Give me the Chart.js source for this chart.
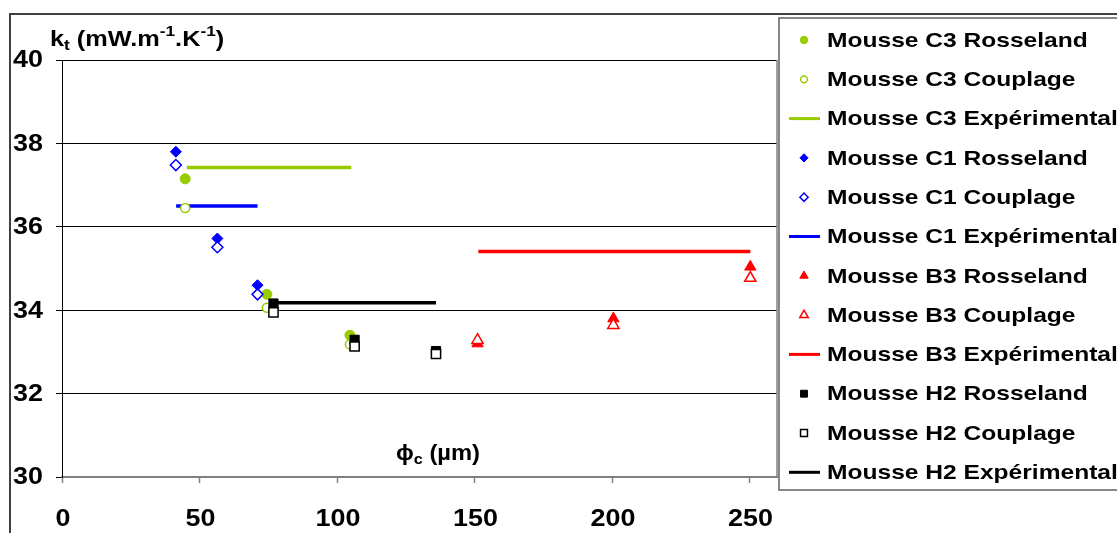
<!DOCTYPE html>
<html>
<head>
<meta charset="utf-8">
<script src="https://cdn.jsdelivr.net/npm/chart.js@4/dist/chart.umd.min.js"></script>
<style>
  html, body { margin: 0; padding: 0; background: #fff; }
  #wrap { position: relative; width: 1117px; height: 533px; }
</style>
</head>
<body>
<div id="wrap"><canvas id="chart" width="1117" height="533"></canvas></div>
<script>
// diamètre de cellule (µm) pour chaque mousse
const c3Diam = [44.8, 74.5, 104.7];
const c1Diam = [41.4, 56.5, 71.1];
const b3RossDiam = [151.1, 200.5, 250.3];
const b3CoupDiam = [151.1, 200.5, 250.3];
const h2Diam = [76.9, 106.4, 136.0];

const c3Rosseland = [37.15, 34.38, 33.40];
const c3Couplage = [36.45, 34.06, 33.18];
const c1Rosseland = [37.80, 35.72, 34.60];
const c1Couplage = [37.48, 35.51, 34.38];
const b3Rosseland = [33.20, 33.80, 35.04];
const b3Couplage = [33.28, 33.64, 34.77];
const h2Rosseland = [34.16, 33.29, 33.02];
const h2Couplage = [33.95, 33.13, 32.95];

// valeurs expérimentales : plage de diamètres et conductivité
const c3ExpRange = [45.4, 105.2];
const c3Exp = 37.42;
const c1ExpRange = [41.5, 71.1];
const c1Exp = 36.50;
const b3ExpRange = [151.4, 250.3];
const b3Exp = 35.41;
const h2ExpRange = [77.0, 136.0];
const h2Exp = 34.18;

const xTicks = [0, 50, 100, 150, 200, 250];
const yTicks = [30, 32, 34, 36, 38, 40];

const GREEN = "#99cc00";
const BLUE = "#0000ff";
const RED = "#ff0000";
const BLACK = "#000000";
const FONT = "'Liberation Sans', Arial, sans-serif";
const STRETCH = 1.17; // le texte de la référence est étiré en largeur

const pts = (xs, ys) => xs.map((x, i) => ({ x: x, y: ys[i] }));
const seg = (range, v) => range.map((x) => ({ x: x, y: v }));

function markers(label, data, color, style, filled, radius, idx) {
  return {
    type: "scatter",
    label: label,
    data: data,
    showLine: false,
    pointStyle: style,
    pointRadius: radius,
    pointHoverRadius: radius,
    pointBackgroundColor: filled ? color : "#ffffff",
    pointBorderColor: color,
    pointBorderWidth: filled ? 1 : 1.5,
    order: 50 - idx,
  };
}

function expLine(label, data, color) {
  return {
    type: "line",
    label: label,
    data: data,
    borderColor: color,
    backgroundColor: color,
    borderWidth: 3.5,
    pointRadius: 0,
    pointStyle: "line",
    fill: false,
    order: 100,
  };
}

const datasets = [
  markers("Mousse C3 Rosseland", pts(c3Diam, c3Rosseland), GREEN, "circle", true, 5, 0),
  markers("Mousse C3 Couplage", pts(c3Diam, c3Couplage), GREEN, "circle", false, 4.5, 1),
  expLine("Mousse C3 Expérimental", seg(c3ExpRange, c3Exp), GREEN),
  markers("Mousse C1 Rosseland", pts(c1Diam, c1Rosseland), BLUE, "rectRot", true, 5.5, 3),
  markers("Mousse C1 Couplage", pts(c1Diam, c1Couplage), BLUE, "rectRot", false, 5.5, 4),
  expLine("Mousse C1 Expérimental", seg(c1ExpRange, c1Exp), BLUE),
  markers("Mousse B3 Rosseland", pts(b3RossDiam, b3Rosseland), RED, "triangle", true, 6.5, 6),
  markers("Mousse B3 Couplage", pts(b3CoupDiam, b3Couplage), RED, "triangle", false, 6.5, 7),
  expLine("Mousse B3 Expérimental", seg(b3ExpRange, b3Exp), RED),
  markers("Mousse H2 Rosseland", pts(h2Diam, h2Rosseland), BLACK, "rect", true, 6.5, 9),
  markers("Mousse H2 Couplage", pts(h2Diam, h2Couplage), BLACK, "rect", false, 6.5, 10),
  expLine("Mousse H2 Expérimental", seg(h2ExpRange, h2Exp), BLACK),
];

// texte étiré horizontalement, ancré en (x, y)
function wideText(ctx, txt, x, y, align, sx) {
  ctx.save();
  ctx.translate(x, y);
  ctx.scale(sx, 1);
  ctx.textAlign = align;
  ctx.fillText(txt, 0, 0);
  ctx.restore();
  return ctx.measureText(txt).width * sx;
}

// cadre extérieur, étiquettes, titres d'axes, légende
const decorPlugin = {
  id: "decor",
  afterDraw(chart) {
    const ctx = chart.ctx;
    const area = chart.chartArea;
    const xs = chart.scales.x;
    const ys = chart.scales.y;
    ctx.save();

    // cadre de la zone graphique (côté droit)
    ctx.strokeStyle = "#808080";
    ctx.lineWidth = 1.5;
    ctx.beginPath();
    ctx.moveTo(area.right, area.top);
    ctx.lineTo(area.right, area.bottom);
    ctx.stroke();

    // cadre extérieur
    ctx.strokeStyle = "#404040";
    ctx.lineWidth = 2;
    ctx.beginPath();
    ctx.moveTo(10, 533);
    ctx.lineTo(10, 14);
    ctx.lineTo(1117, 14);
    ctx.stroke();

    ctx.fillStyle = "#000";

    // étiquettes des graduations
    ctx.font = "bold 23px " + FONT;
    ctx.textBaseline = "middle";
    yTicks.forEach((v) => {
      wideText(ctx, String(v), 43, ys.getPixelForValue(v) + 1, "right", STRETCH);
    });
    xTicks.forEach((v) => {
      wideText(ctx, String(v), xs.getPixelForValue(v) + 1, 520, "center", STRETCH);
    });

    // titre axe Y : kt (mW.m-1.K-1)
    ctx.textBaseline = "alphabetic";
    let x = 50;
    const yb = 46;
    const part = (txt, size, dy) => {
      ctx.font = "bold " + size + "px " + FONT;
      x += wideText(ctx, txt, x, yb + dy, "left", 1.15);
    };
    part("k", 22, 0);
    part("t", 15, 4);
    part(" (mW.m", 22, 0);
    part("-1", 15, -10);
    part(".K", 22, 0);
    part("-1", 15, -10);
    part(")", 22, 0);

    // titre axe X : ϕc (µm)
    const sxT = 1.08;
    ctx.font = "bold 22px " + FONT;
    const wPhi = ctx.measureText("\u03d5").width * sxT;
    const wRest = ctx.measureText(" (\u00b5m)").width * sxT;
    ctx.font = "bold 15px " + FONT;
    const wC = ctx.measureText("c").width * sxT;
    x = 438 - (wPhi + wC + wRest) / 2;
    const xb = 460;
    ctx.font = "bold 22px " + FONT;
    wideText(ctx, "\u03d5", x, xb, "left", sxT);
    x += wPhi;
    ctx.font = "bold 15px " + FONT;
    wideText(ctx, "c", x, xb + 4, "left", sxT);
    x += wC;
    ctx.font = "bold 22px " + FONT;
    wideText(ctx, " (\u00b5m)", x, xb, "left", sxT);

    // légende
    const lx = 779, ly = 18, lb = 490;
    ctx.strokeStyle = "#606060";
    ctx.lineWidth = 1.5;
    ctx.beginPath();
    ctx.moveTo(1117, ly);
    ctx.lineTo(lx, ly);
    ctx.lineTo(lx, lb);
    ctx.lineTo(1117, lb);
    ctx.stroke();

    ctx.font = "bold 21px " + FONT;
    ctx.textBaseline = "middle";
    chart.data.datasets.forEach((ds, i) => {
      const cy = 40 + i * 39.3;
      if (ds.type === "line") {
        ctx.strokeStyle = ds.borderColor;
        ctx.lineWidth = 3;
        ctx.beginPath();
        ctx.moveTo(789, cy);
        ctx.lineTo(820, cy);
        ctx.stroke();
      } else {
        ctx.fillStyle = ds.pointBackgroundColor;
        ctx.strokeStyle = ds.pointBorderColor;
        ctx.lineWidth = ds.pointBorderWidth;
        Chart.helpers.drawPoint(ctx, {
          pointStyle: ds.pointStyle,
          radius: ds.pointRadius * 0.75,
          borderWidth: ds.pointBorderWidth,
          rotation: 0,
        }, 804, cy);
      }
      ctx.fillStyle = "#000";
      wideText(ctx, ds.label, 827, cy + 1, "left", STRETCH);
    });

    ctx.restore();
  },
};

const ctx = document.getElementById("chart").getContext("2d");
new Chart(ctx, {
  data: { datasets: datasets },
  options: {
    responsive: false,
    animation: false,
    events: [],
    layout: { padding: { left: 0, top: 60, right: 340, bottom: 0 } },
    plugins: {
      legend: { display: false },
      tooltip: { enabled: false },
      title: { display: false },
    },
    scales: {
      x: {
        type: "linear",
        min: 0,
        max: 260,
        afterFit: (scale) => { scale.height = 56; },
        afterBuildTicks: (scale) => { scale.ticks = xTicks.map((v) => ({ value: v })); },
        ticks: { display: false },
        grid: {
          drawOnChartArea: false,
          drawTicks: true,
          tickLength: 6,
          tickColor: "#808080",
          tickWidth: 1.5,
        },
        border: { color: "#808080", width: 2 },
      },
      y: {
        type: "linear",
        min: 30,
        max: 40,
        afterFit: (scale) => { scale.width = 62; },
        afterBuildTicks: (scale) => { scale.ticks = yTicks.map((v) => ({ value: v })); },
        ticks: { display: false },
        grid: {
          color: "#000",
          lineWidth: 1,
          drawTicks: true,
          tickLength: 6,
          tickColor: "#000",
        },
        border: { color: "#000", width: 1 },
      },
    },
  },
  plugins: [decorPlugin],
});
</script>
</body>
</html>
